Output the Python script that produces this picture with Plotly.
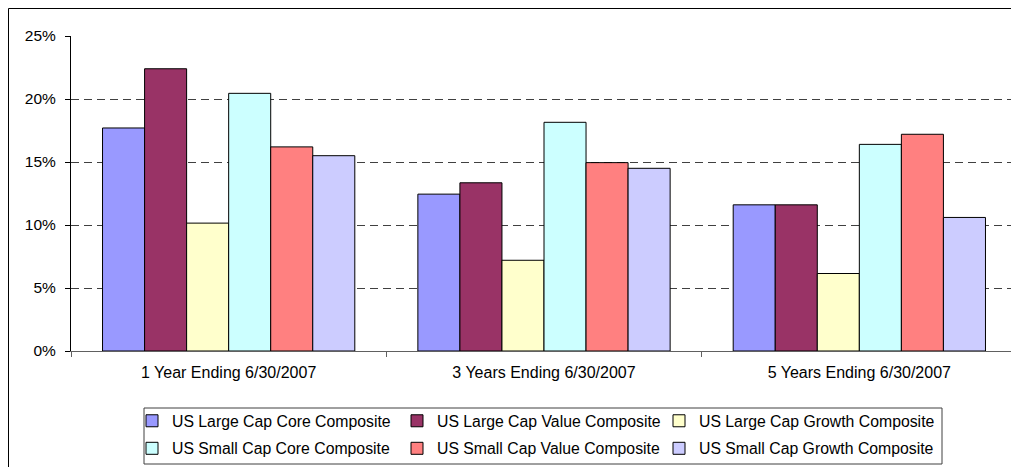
import plotly.graph_objects as go

categories = ["1 Year Ending 6/30/2007", "3 Years Ending 6/30/2007", "5 Years Ending 6/30/2007"]

series_names = [
    "US Large Cap Core Composite",
    "US Large Cap Value Composite",
    "US Large Cap Growth Composite",
    "US Small Cap Core Composite",
    "US Small Cap Value Composite",
    "US Small Cap Growth Composite",
]

large_core = [17.7, 12.45, 11.6]
large_value = [22.4, 13.35, 11.6]
large_growth = [10.15, 7.2, 6.15]
small_core = [20.45, 18.15, 16.4]
small_value = [16.2, 14.95, 17.2]
small_growth = [15.5, 14.5, 10.6]

colors = ["#9999FF", "#993366", "#FFFFCC", "#CCFFFF", "#FF8080", "#CCCCFF"]

series_values = [large_core, large_value, large_growth, small_core, small_value, small_growth]

# legend column each series sits in (3 columns x 2 rows)
legend_ids = ["legend", "legend2", "legend3", "legend", "legend2", "legend3"]

FONT = "Liberation Sans, Arial, sans-serif"

fig = go.Figure()
for i, (name, vals, col) in enumerate(zip(series_names, series_values, colors)):
    fig.add_trace(go.Bar(
        x=categories, y=vals, name=name,
        marker=dict(color=col, line=dict(color="#000000", width=1)),
        legend=legend_ids[i], legendgroup=name,
    ))

# the page body adds an 8px margin around the figure
OFF = 8
W, H = 1019, 467
L = 71 - OFF
T = 36 - OFF
R = W - (1017 - OFF)
B = H - (351 - OFF)
pw = W - L - R
ph = H - T - B

def px_x(p):
    """page x pixel -> paper coordinate"""
    return (p - OFF - L) / pw

def px_y(p):
    """page y pixel -> paper coordinate"""
    return (H - B - (p - OFF)) / ph

def col_legend(x_px):
    return dict(
        orientation="v",
        x=px_x(x_px), xanchor="left",
        y=px_y(404), yanchor="top",
        bgcolor="rgba(0,0,0,0)", borderwidth=0,
        font=dict(family=FONT, size=15.8, color="#000000"),
        traceorder="grouped", tracegroupgap=4,
    )

fig.update_layout(
    width=W, height=H,
    margin=dict(l=L, r=R, t=T, b=B, pad=0, autoexpand=False),
    paper_bgcolor="white", plot_bgcolor="white",
    barmode="group", bargap=0.2, bargroupgap=0,
    font=dict(family=FONT, size=16, color="#000000"),
    showlegend=True,
    legend=col_legend(132),
    legend2=col_legend(397),
    legend3=col_legend(659),
    xaxis=dict(
        showline=True, linecolor="#606060", linewidth=1,
        ticks="outside", tickson="boundaries", ticklen=5, tickcolor="#606060",
        showgrid=False, tickfont=dict(size=16),
        ticklabelstandoff=7,
    ),
    yaxis=dict(
        range=[0, 25], tick0=0, dtick=5, ticksuffix="%",
        showline=True, linecolor="#000000", linewidth=1,
        ticks="outside", ticklen=5, tickcolor="#000000",
        showgrid=True, gridcolor="#404040", gridwidth=1, griddash="8px,5px",
        zeroline=False, tickfont=dict(size=15.5),
        ticklabelstandoff=6,
    ),
    shapes=[
        # right border of plot area
        dict(type="line", xref="paper", yref="paper", x0=1, x1=1, y0=0, y1=1,
             line=dict(color="#808080", width=1)),
        # legend box
        dict(type="rect", xref="paper", yref="paper",
             x0=px_x(144), x1=px_x(942), y0=px_y(464), y1=px_y(408),
             line=dict(color="#404040", width=1)),
        # outer chart frame (extends past the right and bottom edges)
        dict(type="rect", xref="paper", yref="paper",
             x0=px_x(7.5 + 1), x1=px_x(1040), y0=px_y(490), y1=px_y(7.5 + 1),
             line=dict(color="#000000", width=1), layer="below"),
    ],
)

fig.write_html("out.html")
